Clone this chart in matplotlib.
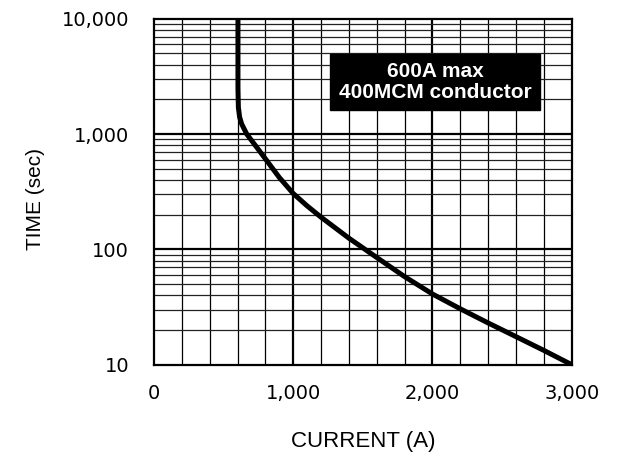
import numpy as np
import matplotlib.pyplot as plt
from matplotlib.ticker import FixedLocator, FuncFormatter, NullFormatter

current = [603, 603, 606, 615, 630, 666, 730, 800, 900, 1000, 1100, 1200, 1400,
           1600, 1800, 2000, 2200, 2400, 2600, 2800, 3000]
seconds = [10000, 2500, 1700, 1400, 1220, 1000, 790, 610, 420, 305, 238, 190, 125,
           85, 58, 41, 30.5, 23, 17.5, 13.3, 10]
x_ticks = [0, 1000, 2000, 3000]
y_ticks = [10, 100, 1000, 10000]
note = '600A max\n400MCM conductor'

fig = plt.figure(figsize=(6.17, 4.57), dpi=100)
ax = fig.add_axes([0.2496, 0.202, 0.677, 0.757])

ax.set_yscale('log')
ax.set_xlim(0, 3000)
ax.set_ylim(10, 10000)

# grid: minor every 200 A and 2..9 per decade, heavier at major ticks
for xv in np.arange(200, 3000, 200):
    lw = 1.6 if xv % 1000 == 0 else 0.9
    ax.axvline(xv, color='black', lw=lw, zorder=1)
for dec in [10, 100, 1000]:
    for m in range(2, 10):
        ax.axhline(dec * m, color='#222222', lw=0.9, zorder=1)
for yv in [100, 1000]:
    ax.axhline(yv, color='black', lw=1.6, zorder=1)

ax.plot(current, seconds, color='black', lw=3.6, solid_capstyle='butt',
        solid_joinstyle='round', zorder=3)

ax.xaxis.set_major_locator(FixedLocator(x_ticks))
ax.yaxis.set_major_locator(FixedLocator(y_ticks))
ax.yaxis.set_minor_formatter(NullFormatter())
ax.xaxis.set_major_formatter(FuncFormatter(lambda v, p: f'{int(v):,}'))
ax.yaxis.set_major_formatter(FuncFormatter(lambda v, p: f'{int(v):,}'))
ax.tick_params(which='both', length=0, labelsize=14)
ax.tick_params(axis='x', pad=14)
ax.tick_params(axis='y', pad=18)

for s in ax.spines.values():
    s.set_color('black')
    s.set_linewidth(1.6)

ax.set_xlabel('CURRENT (A)', family='Liberation Sans', fontsize=16, labelpad=20)
ax.set_ylabel('TIME (sec)', family='Liberation Sans', fontsize=15)
ax.yaxis.set_label_coords(-0.262, 0.48)

ax.text(0.673, 0.817, note, transform=ax.transAxes, ha='center', va='center',
        color='white', fontsize=15, fontweight='bold', family='Liberation Sans',
        linespacing=1.1, zorder=5,
        bbox=dict(boxstyle='square,pad=0.4', facecolor='black', edgecolor='black'))

fig.savefig('out.png', dpi=100)
